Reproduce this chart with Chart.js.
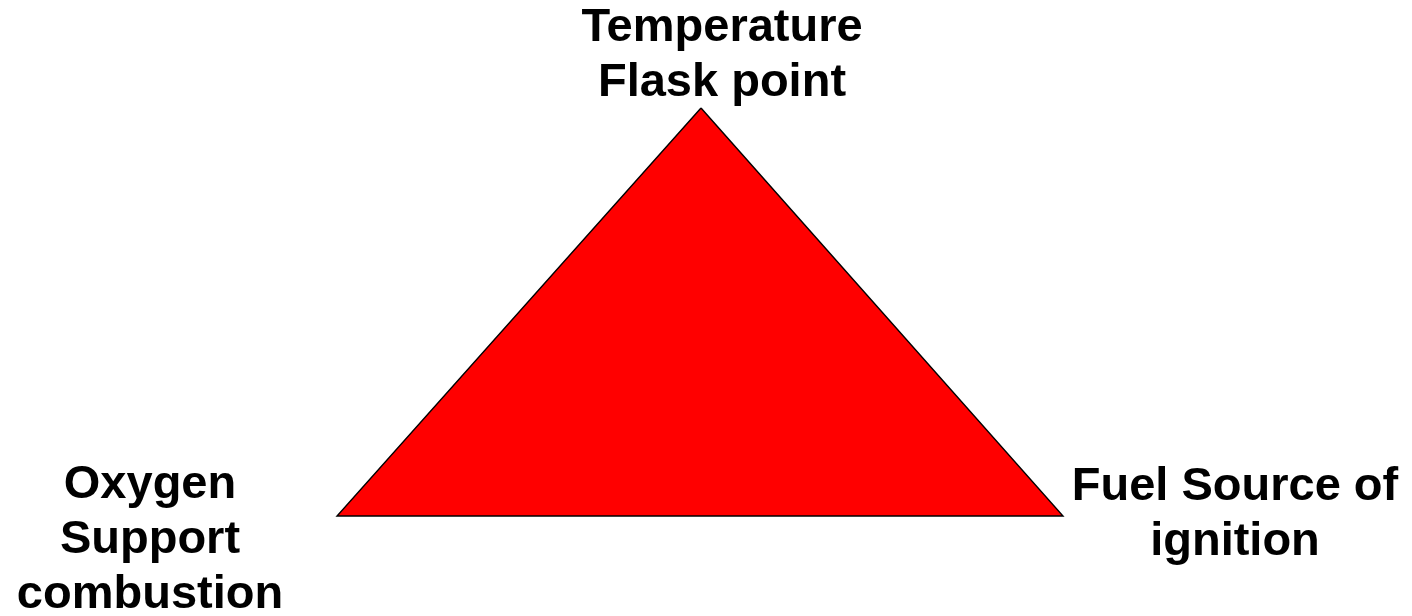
<!DOCTYPE html>
<html>
<head>
<meta charset="utf-8">
<script src="https://cdn.jsdelivr.net/npm/chart.js@4"></script>
<style>
  html, body { margin: 0; padding: 0; background: #fff; }
  #wrap { width: 1412px; height: 616px; }
</style>
</head>
<body>
<div id="wrap"><canvas id="fireTriangle"></canvas></div>
<script>
// triangle corners: apex, bottom-left, bottom-right
const cornerX = [701, 337, 1063];
const cornerY = [108, 516, 516];
const cornerLabels = [
  ["Temperature", "Flask point"],
  ["Oxygen", "Support", "combustion"],
  ["Fuel Source of", "ignition"],
];

// closed outline (back to the apex)
const outline = cornerX.map((x, i) => ({ x: x, y: cornerY[i] }));
outline.push({ x: cornerX[0], y: cornerY[0] });

// where each label block sits relative to its corner (px)
const labelOffsets = [
  { dx: 21, dy: -67 },
  { dx: -187, dy: -18 },
  { dx: 172, dy: -16 },
];

const cornerTextPlugin = {
  id: "cornerText",
  afterDatasetsDraw(chart) {
    const { ctx, scales } = chart;
    ctx.save();
    ctx.fillStyle = "#000";
    ctx.font = "bold 47px 'Liberation Sans', Arial, sans-serif";
    ctx.textAlign = "center";
    ctx.textBaseline = "alphabetic";
    cornerLabels.forEach((lines, i) => {
      const px = scales.x.getPixelForValue(cornerX[i]) + labelOffsets[i].dx;
      const py = scales.y.getPixelForValue(cornerY[i]) + labelOffsets[i].dy;
      lines.forEach((line, j) => {
        ctx.fillText(line, px, py + j * 55);
      });
    });
    ctx.restore();
  },
};

const ctx = document.getElementById("fireTriangle").getContext("2d");
new Chart(ctx, {
  type: "scatter",
  data: {
    datasets: [
      {
        label: "Fire triangle",
        data: outline,
        showLine: true,
        fill: "shape",
        backgroundColor: "#FF0000",
        borderColor: "#000000",
        borderWidth: 1.4,
        pointRadius: 0,
        tension: 0,
      },
    ],
  },
  options: {
    responsive: true,
    maintainAspectRatio: false,
    animation: false,
    layout: { padding: 0 },
    scales: {
      x: { type: "linear", min: 0, max: 1412, display: false },
      y: { type: "linear", min: 0, max: 616, reverse: true, display: false },
    },
    plugins: {
      legend: { display: false },
      tooltip: { enabled: false },
    },
  },
  plugins: [cornerTextPlugin],
});
</script>
</body>
</html>
